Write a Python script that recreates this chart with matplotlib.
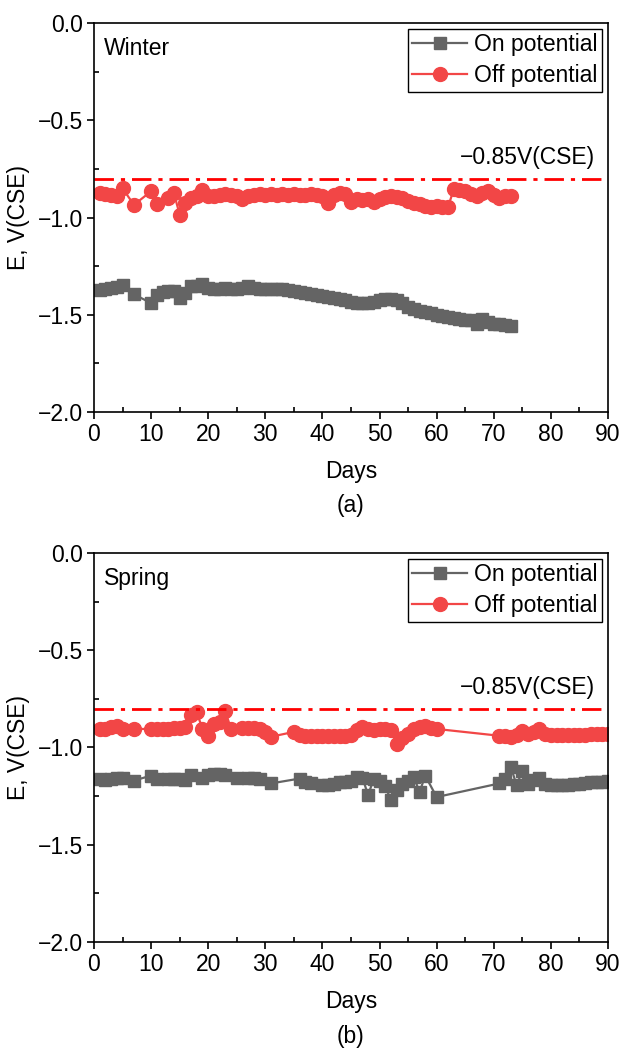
import matplotlib
matplotlib.use("Agg")
import matplotlib.pyplot as plt
from matplotlib.ticker import MultipleLocator, FuncFormatter

plt.rcParams['font.family'] = ['Liberation Sans', 'DejaVu Sans']
plt.rcParams['font.size'] = 16.5

# --- data ---
winter_on_days = [1, 2, 3, 4, 5, 7, 10, 11, 12, 13, 14, 15, 16, 17, 18, 19, 20, 21, 22, 23, 24, 25, 26, 27,
                  28, 29, 30, 31, 32, 33, 34, 35, 36, 37, 38, 39, 40, 41, 42, 43, 44, 45, 46, 47, 48, 49, 50,
                  51, 52, 53, 54, 55, 56, 57, 58, 59, 60, 61, 62, 63, 64, 65, 66, 67, 68, 69, 70, 71, 72, 73]
winter_on = [-1.375, -1.365, -1.36, -1.355, -1.345, -1.395, -1.44, -1.40, -1.385, -1.38, -1.38, -1.415,
             -1.39, -1.35, -1.35, -1.34, -1.36, -1.365, -1.365, -1.36, -1.365, -1.365, -1.36, -1.35,
             -1.36, -1.365, -1.37, -1.365, -1.365, -1.37, -1.375, -1.38, -1.385, -1.39, -1.395, -1.40,
             -1.405, -1.41, -1.415, -1.42, -1.425, -1.435, -1.44, -1.44, -1.44, -1.435, -1.425, -1.42,
             -1.42, -1.425, -1.44, -1.46, -1.47, -1.48, -1.485, -1.49, -1.50, -1.505, -1.51, -1.515,
             -1.52, -1.525, -1.525, -1.55, -1.52, -1.535, -1.545, -1.55, -1.555, -1.56]

winter_off_days = [1, 2, 3, 4, 5, 7, 10, 11, 13, 14, 15, 16, 17, 18, 19, 20, 21, 22, 23, 24, 25, 26, 27,
                   28, 29, 30, 31, 32, 33, 34, 35, 36, 37, 38, 39, 40, 41, 42, 43, 44, 45, 46, 47, 48, 49,
                   50, 51, 52, 53, 54, 55, 56, 57, 58, 59, 60, 61, 62, 63, 64, 65, 66, 67, 68, 69, 70, 71,
                   72, 73]
winter_off = [-0.875, -0.88, -0.885, -0.89, -0.85, -0.935, -0.865, -0.93, -0.90, -0.875, -0.985, -0.925,
              -0.90, -0.89, -0.86, -0.89, -0.89, -0.885, -0.88, -0.885, -0.89, -0.905, -0.89, -0.885,
              -0.88, -0.885, -0.88, -0.885, -0.88, -0.885, -0.88, -0.885, -0.885, -0.88, -0.885, -0.89,
              -0.925, -0.885, -0.875, -0.88, -0.92, -0.905, -0.91, -0.905, -0.92, -0.905, -0.895, -0.89,
              -0.895, -0.90, -0.915, -0.925, -0.93, -0.94, -0.945, -0.94, -0.945, -0.945, -0.855, -0.86,
              -0.865, -0.88, -0.89, -0.875, -0.865, -0.885, -0.90, -0.89, -0.89]

spring_on_days = [1, 2, 3, 4, 5, 7, 10, 11, 13, 14, 15, 16, 17, 19, 20, 21, 22, 23, 25, 27, 28, 29, 31,
                  36, 37, 38, 40, 41, 42, 43, 44, 45, 46, 47, 48, 49, 50, 51, 52, 53, 54, 55, 56, 57, 58,
                  60, 71, 72, 73, 74, 75, 76, 77, 78, 79, 80, 81, 82, 83, 84, 85, 86, 87, 88, 89, 90]
spring_on = [-1.16, -1.165, -1.16, -1.155, -1.155, -1.17, -1.145, -1.16, -1.16, -1.16, -1.16, -1.165,
             -1.14, -1.155, -1.14, -1.135, -1.135, -1.14, -1.155, -1.155, -1.155, -1.16, -1.185,
             -1.16, -1.18, -1.185, -1.195, -1.195, -1.19, -1.18, -1.18, -1.175, -1.15, -1.155, -1.245,
             -1.16, -1.17, -1.20, -1.27, -1.22, -1.19, -1.17, -1.15, -1.23, -1.145, -1.255,
             -1.185, -1.16, -1.10, -1.195, -1.12, -1.19, -1.165, -1.155, -1.19, -1.195, -1.195,
             -1.195, -1.195, -1.19, -1.19, -1.185, -1.18, -1.18, -1.18, -1.175]

spring_off_days = [1, 2, 3, 4, 5, 7, 10, 11, 12, 13, 14, 15, 16, 17, 18, 19, 20, 21, 22, 23, 24, 26, 27,
                   28, 29, 30, 31, 35, 36, 37, 38, 39, 40, 41, 42, 43, 44, 45, 46, 47, 48, 49, 50, 51, 52,
                   53, 54, 55, 56, 57, 58, 59, 60, 71, 72, 73, 74, 75, 76, 77, 78, 79, 80, 81, 82, 83, 84,
                   85, 86, 87, 88, 89, 90]
spring_off = [-0.905, -0.905, -0.895, -0.89, -0.905, -0.905, -0.905, -0.905, -0.905, -0.905, -0.90, -0.90,
              -0.895, -0.835, -0.82, -0.905, -0.94, -0.88, -0.87, -0.815, -0.905, -0.90, -0.90, -0.90,
              -0.905, -0.92, -0.945, -0.92, -0.935, -0.94, -0.94, -0.94, -0.94, -0.94, -0.94, -0.94,
              -0.94, -0.935, -0.91, -0.895, -0.905, -0.91, -0.905, -0.905, -0.91, -0.98, -0.95, -0.93,
              -0.905, -0.895, -0.89, -0.90, -0.905, -0.94, -0.94, -0.945, -0.935, -0.915, -0.93, -0.92,
              -0.905, -0.93, -0.935, -0.935, -0.935, -0.935, -0.935, -0.935, -0.935, -0.93, -0.93,
              -0.93, -0.93]

criterion = -0.80
criterion_label = "\u22120.85V(CSE)"

gray = "#646464"
red = "#F24646"

fig = plt.figure(figsize=(6.32, 10.5), dpi=100)
ax1 = fig.add_axes([0.1487, 0.6076, 0.8133, 0.3705])
ax2 = fig.add_axes([0.1487, 0.1029, 0.8133, 0.3705])

minus_fmt = FuncFormatter(lambda v, pos: f"{v:.1f}".replace("-", "\u2212"))


def draw(ax, on_d, on_v, off_d, off_v, season):
    ax.plot(on_d, on_v, color=gray, marker="s", ms=8.5, lw=1.6, label="On potential")
    ax.plot(off_d, off_v, color=red, marker="o", ms=10, lw=1.6, label="Off potential")
    ax.axhline(criterion, color="#FF0000", lw=2, dashes=(7, 2.5, 1.5, 2.5))
    ax.text(0.975, 0.655, criterion_label, transform=ax.transAxes, ha="right", va="center")
    ax.text(0.02, 0.935, season, transform=ax.transAxes, ha="left", va="center")
    ax.set_xlim(0, 90)
    ax.set_ylim(-2.0, 0.0)
    ax.xaxis.set_major_locator(MultipleLocator(10))
    ax.xaxis.set_minor_locator(MultipleLocator(5))
    ax.yaxis.set_major_locator(MultipleLocator(0.5))
    ax.yaxis.set_minor_locator(MultipleLocator(0.25))
    ax.yaxis.set_major_formatter(minus_fmt)
    ax.tick_params(which="major", direction="out", length=5, width=1.2, labelsize=16.5, pad=3)
    ax.tick_params(which="minor", direction="in", length=3.5, width=1.2)
    for s in ax.spines.values():
        s.set_linewidth(1.2)
    ax.set_xlabel("Days", labelpad=10)
    ax.set_ylabel("E, V(CSE)")
    ax.yaxis.set_label_coords(-0.125, 0.5)
    leg = ax.legend(loc="upper right", frameon=True, fancybox=False,
                    edgecolor="black", framealpha=1, handlelength=2.4, handletextpad=0.3,
                    borderpad=0.2, labelspacing=0.35, borderaxespad=0.25)
    leg.get_frame().set_linewidth(1.0)


draw(ax1, winter_on_days, winter_on, winter_off_days, winter_off, "Winter")
draw(ax2, spring_on_days, spring_on, spring_off_days, spring_off, "Spring")

fig.text(0.5 * (94 + 608) / 632, 1 - 506 / 1050, "(a)", ha="center", va="center")
fig.text(0.5 * (94 + 608) / 632, 1 - 1036 / 1050, "(b)", ha="center", va="center")

fig.savefig("out.png", dpi=100)
